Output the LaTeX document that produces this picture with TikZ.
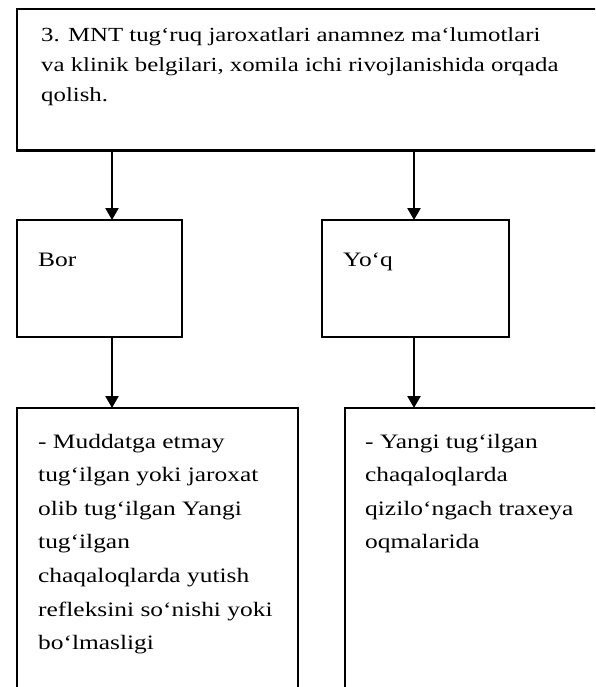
\documentclass[tikz,border=0pt]{standalone}
\usepackage{fontspec}
\setmainfont{Liberation Serif}[FakeStretch=1.24]
\usetikzlibrary{arrows.meta}
\begin{document}
\begin{tikzpicture}[x=1pt,y=-1pt,
  box/.style={draw=black,line width=2.2pt,fill=white,inner sep=0pt,outer sep=0pt,anchor=north west},
  txt/.style={inner sep=0pt,anchor=base west,align=left},
  toptext/.style={txt,font=\fontsize{20}{30}\selectfont},
  bodytext/.style={txt,font=\fontsize{20.5}{33.6}\selectfont},
  arr/.style={line width=2.4pt,-{Triangle[width=13pt,length=12pt]}}]
\useasboundingbox (0,0) rectangle (595,687);
\clip (0,0) rectangle (595,687);
\fill[white] (0,0) rectangle (595,687);

% boxes
\node[box,minimum width=603pt,minimum height=141.5pt] (top) at (17,9) {};
\node[box,minimum width=165pt,minimum height=117pt] (bor) at (17,220) {};
\node[box,minimum width=187pt,minimum height=117pt] (yoq) at (322,220) {};
\node[box,minimum width=281pt,minimum height=320pt] (bl) at (17,408) {};
\node[box,minimum width=300pt,minimum height=320pt] (br) at (345,408) {};

% arrow columns
\coordinate (c1) at (112,0);
\coordinate (c2) at (414,0);

% connectors
\draw[arr] (top.south -| c1) -- (bor.north -| c1);
\draw[arr] (top.south -| c2) -- (yoq.north -| c2);
\draw[arr] (bor.south -| c1) -- (bl.north -| c1);
\draw[arr] (yoq.south -| c2) -- (br.north -| c2);

% texts (each placed by the baseline of its last line)
\node[toptext] (t0) at (41,102) {3. MNT tug`ruq jaroxatlari anamnez ma`lumotlari\\va klinik belgilari, xomila ichi rivojlanishida orqada\\qolish.};
\node[bodytext] (t1) at (38,266) {Bor};
\node[bodytext] (t2) at (343,266) {Yo`q};
\node[bodytext] (t3) at (38,649.6) {- Muddatga etmay\\tug`ilgan yoki jaroxat\\olib tug`ilgan Yangi\\tug`ilgan\\chaqaloqlarda yutish\\refleksini so`nishi yoki\\bo`lmasligi};
\node[bodytext] (t4) at (365,548.8) {- Yangi tug`ilgan\\chaqaloqlarda\\qizilo`ngach traxeya\\oqmalarida};
\end{tikzpicture}
\end{document}
